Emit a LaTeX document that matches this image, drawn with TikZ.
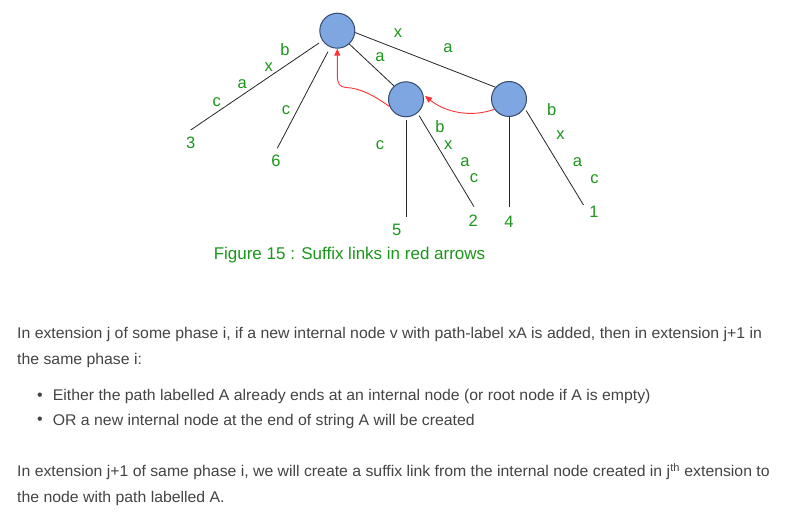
\documentclass[tikz,border=0pt]{standalone}
\usepackage{fontspec}
\setmainfont{Liberation Sans}
\newfontfamily\bodyfont[FakeStretch=1.02]{Liberation Sans}
\usetikzlibrary{arrows.meta}
\definecolor{lblgreen}{RGB}{26,150,26}
\definecolor{nodefill}{RGB}{126,166,224}
\definecolor{nodeline}{RGB}{52,74,110}
\definecolor{linkred}{RGB}{255,51,51}
\definecolor{bodygray}{RGB}{68,68,68}

\begin{document}
\begin{tikzpicture}[x=1pt,y=-1pt,
  tnode/.style={circle,draw=nodeline,fill=nodefill,line width=1pt,minimum size=35pt,inner sep=0pt},
  edge/.style={draw=black!85,line width=0.8pt},
  elabel/.style={text=lblgreen,font=\fontsize{16.5}{16}\selectfont,inner sep=0pt},
  link/.style={draw=linkred,line width=0.9pt,-{Triangle[length=7pt,width=6pt]}},
  caption/.style={text=lblgreen,font=\fontsize{17}{20}\selectfont,inner sep=0pt,anchor=base},
  body/.style={text=bodygray,font=\bodyfont\fontsize{15.5}{18}\selectfont,inner sep=0pt,anchor=base west},
  bullet/.style={text=bodygray,font=\fontsize{16}{18}\selectfont,inner sep=0pt}
]
\useasboundingbox[fill=white] (0,0) rectangle (801,529);

% internal nodes of the suffix tree
\node[tnode] (r) at (337.3,30.7) {};
\node[tnode] (m) at (406,99.3) {};
\node[tnode] (n) at (509,99) {};

% leaf ends
\coordinate (t3) at (190.7,130);
\coordinate (t6) at (277.3,148.3);
\coordinate (t5) at (406,216.7);
\coordinate (t2) at (474,206.7);
\coordinate (t4) at (509,206.7);
\coordinate (t1) at (583.5,205);

% tree edges
\draw[edge,shorten <=4pt] (r.214) -- (t3);
\draw[edge,shorten <=5pt] (r.247) -- (t6);
\draw[edge] (r.-48) -- (m.132);
\draw[edge] (r.-6) -- (n.139);
\draw[edge,shorten <=3pt] (m.-90) -- (t5);
\draw[edge,shorten <=3pt] (m.-50) -- (t2);
\draw[edge] (n.-90) -- (t4);
\draw[edge,shorten <=3pt] (n.-30) -- (t1);

% leaf numbers
\node[elabel] (l3) at (190.7,143) {3};
\node[elabel] (l6) at (276,160.7) {6};
\node[elabel] (l5) at (396.7,230) {5};
\node[elabel] (l2) at (473.3,220.7) {2};
\node[elabel] (l4) at (509,221.7) {4};
\node[elabel] (l1) at (594,211.7) {1};

% edge labels
\node[elabel] (e3b) at (285,49.5) {b};
\node[elabel] (e3x) at (268.8,66.7) {x};
\node[elabel] (e3a) at (242.2,84) {a};
\node[elabel] (e3c) at (216.7,101.7) {c};
\node[elabel] (e6c) at (286,110) {c};
\node[elabel] (ema) at (380,57) {a};
\node[elabel] (enx) at (398,33) {x};
\node[elabel] (ena) at (448,48) {a};
\node[elabel] (e5c) at (380,145) {c};
\node[elabel] (e2b) at (440,126.7) {b};
\node[elabel] (e2x) at (448.3,145) {x};
\node[elabel] (e2a) at (465,161.7) {a};
\node[elabel] (e2c) at (474,178.3) {c};
\node[elabel] (e1b) at (551.7,109.3) {b};
\node[elabel] (e1x) at (560.5,135.5) {x};
\node[elabel] (e1a) at (577.5,161.7) {a};
\node[elabel] (e1c) at (594.5,178.8) {c};

% suffix links
\draw[link,shorten >=2pt] (n.215) .. controls (470,118) and (445,112) .. (m.15);
\draw[link] (m.204) .. controls (375,96) and (360,88) .. (346,87.5)
  .. controls (340,87.2) and (337.5,84) .. (337.3,76) -- (r.south);

% caption
\node[caption] (cap) at (349.5,260) {Figure 15 : Suffix links in red arrows};

% explanatory text
\node[body] (p1a) at (17,338.5) {In extension j of some phase i, if a new internal node v with path-label xA is added, then in extension j+1 in};
\node[body] (p1b) at (17,364.5) {the same phase i:};
\node[bullet] (b1) at (40,397) {•};
\node[body] (i1) at (52.7,401) {Either the path labelled A already ends at an internal node (or root node if A is empty)};
\node[bullet] (b2) at (40,421) {•};
\node[body] (i2) at (52.7,425) {OR a new internal node at the end of string A will be created};
\node[body] (p2a) at (17,476.5) {In extension j+1 of same phase i, we will create a suffix link from the internal node created in j\textsuperscript{th} extension to};
\node[body] (p2b) at (17,502.5) {the node with path labelled A.};
\end{tikzpicture}
\end{document}
